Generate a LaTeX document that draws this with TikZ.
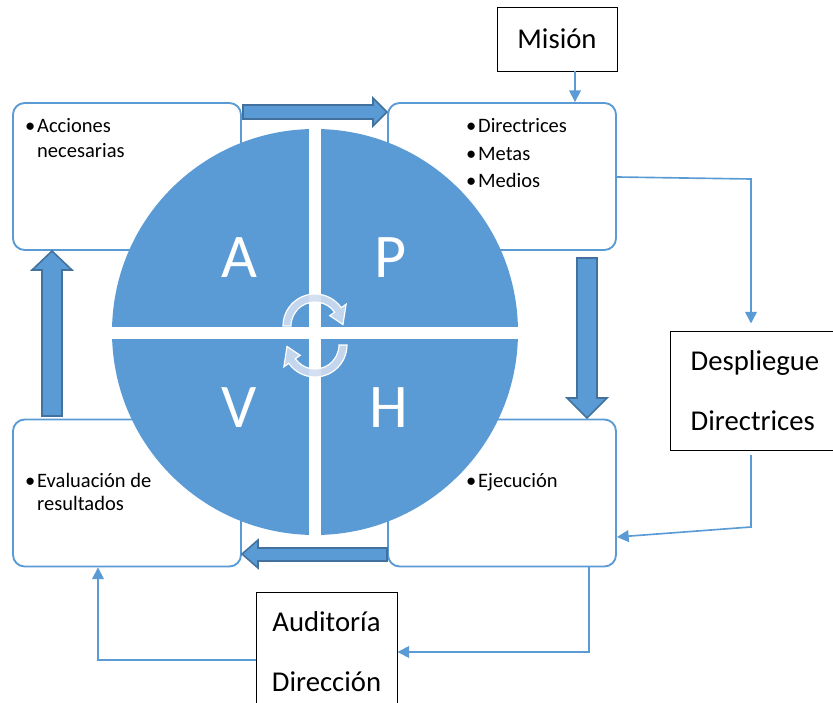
\documentclass[tikz,border=0pt]{standalone}
\usepackage{fontspec}
\setmainfont{Carlito}
\usetikzlibrary{arrows.meta}
\definecolor{pdcablue}{HTML}{5B9BD5}
\definecolor{pdcaedge}{HTML}{41719C}
\definecolor{pdcalight}{HTML}{D0DDF0}

\begin{document}
\begin{tikzpicture}[x=0.03cm,y=-0.03cm,>={Triangle[length=10pt,width=10pt]},line join=miter,
  phasebox/.style={draw=pdcablue,line width=1.6pt,fill=white,rounded corners=10pt,minimum width=6.84cm,minimum height=4.41cm,inner sep=0pt},
  titlebox/.style={draw=black,line width=0.8pt,fill=white,inner sep=0pt,font=\fontsize{24.5}{51}\selectfont},
  itemtext/.style={anchor=base west,inner sep=0pt,font=\fontsize{17.5}{21}\selectfont},
  bigletter/.style={text=white,inner sep=0pt,font=\fontsize{53}{60}\selectfont},
  blockarrow/.style={fill=pdcablue,draw=pdcaedge,line width=1.3pt},
  cyclearrow/.style={fill=pdcalight,draw=white,line width=1pt,fill opacity=0.9},
  conn/.style={->,draw=pdcablue,line width=1.4pt}]
\useasboundingbox (0,0) rectangle (833,703);
\clip (0,0) rectangle (833,703);
% the four phase boxes
\node[phasebox] (act) at (127,176.5) {};
\node[phasebox] (plan) at (502,176.5) {};
\node[phasebox] (check) at (127,493) {};
\node[phasebox] (do) at (502,493) {};
% wheel
\fill[pdcablue] (315,332) circle[radius=203];
\fill[white] (309,124) rectangle (321,537);
\fill[white] (106,327) rectangle (524,339);
\node[bigletter] (la) at (239.5,258) {A};
\node[bigletter] (lp) at (390.5,258) {P};
\node[bigletter] (lv) at (239,408) {V};
\node[bigletter] (lh) at (389,408) {H};
% turning arrows in the middle
\coordinate (cu) at (315,326);
\coordinate (cl) at (315,345);
\draw[cyclearrow] ([shift={(180:32)}]cu) arc[start angle=180,end angle=325,radius=32]
  -- ([shift={(325:38)}]cu) -- ([shift={(357:28)}]cu) -- ([shift={(325:18)}]cu)
  -- ([shift={(325:24)}]cu) arc[start angle=325,end angle=180,radius=24] -- cycle;
\draw[cyclearrow] ([shift={(0:32)}]cl) arc[start angle=0,end angle=145,radius=32]
  -- ([shift={(145:38)}]cl) -- ([shift={(177:28)}]cl) -- ([shift={(145:18)}]cl)
  -- ([shift={(145:24)}]cl) arc[start angle=145,end angle=0,radius=24] -- cycle;
% block arrows between the phases
\draw[blockarrow] (243,105) -- (373,105) -- (373,98) -- (387,112) -- (373,126) -- (373,119) -- (243,119) -- cycle;
\draw[blockarrow] (577,258) -- (597,258) -- (597,398) -- (607,398) -- (587,418) -- (567,398) -- (577,398) -- cycle;
\draw[blockarrow] (387,548) -- (258,548) -- (258,540) -- (242,554) -- (258,568) -- (258,561) -- (387,561) -- cycle;
\draw[blockarrow] (42,416) -- (42,270) -- (32,270) -- (52,251) -- (72,270) -- (62,270) -- (62,416) -- cycle;
% texts in the boxes
\node[itemtext] (accA) at (25,132) {\textbullet\hspace{1.5pt}Acciones};
\node[itemtext] (accB) at (37,157) {necesarias};
\node[itemtext] (dirA) at (466,132) {\textbullet\hspace{1.5pt}Directrices};
\node[itemtext] (dirB) at (466,160) {\textbullet\hspace{1.5pt}Metas};
\node[itemtext] (dirC) at (466,187) {\textbullet\hspace{1.5pt}Medios};
\node[itemtext] (evaA) at (25,487) {\textbullet\hspace{1.5pt}Evaluación de};
\node[itemtext] (evaB) at (37,510) {resultados};
\node[itemtext] (eje) at (466,487) {\textbullet\hspace{1.5pt}Ejecución};
% outer boxes
\node[titlebox,minimum width=3.6cm,minimum height=1.92cm] (mision) at (557,39) {Misión};
\node[titlebox,minimum width=5.1cm,minimum height=3.57cm,align=left] (desp) at (755,390.5) {Despliegue\\Directrices};
\node[titlebox,minimum width=4.23cm,minimum height=3.6cm,align=center] (audit) at (326.5,652) {Auditoría\\Dirección};
% connectors
\draw[conn] (575,0 |- mision.south) -- (575,0 |- plan.north);
\draw[conn,shorten >=6pt] (plan.east |- 0,177) -- (751,179) -- (751,0 |- desp.north);
\draw[conn] ([yshift=-4pt]751,0 |- desp.south) -- (751,527) -- (do.east |- 0,537);
\draw[conn] (589,0 |- do.south) -- (589,652) -- (audit.east);
\draw[conn] (audit.west |- 0,660) -| (98,0 |- check.south);
\end{tikzpicture}
\end{document}
